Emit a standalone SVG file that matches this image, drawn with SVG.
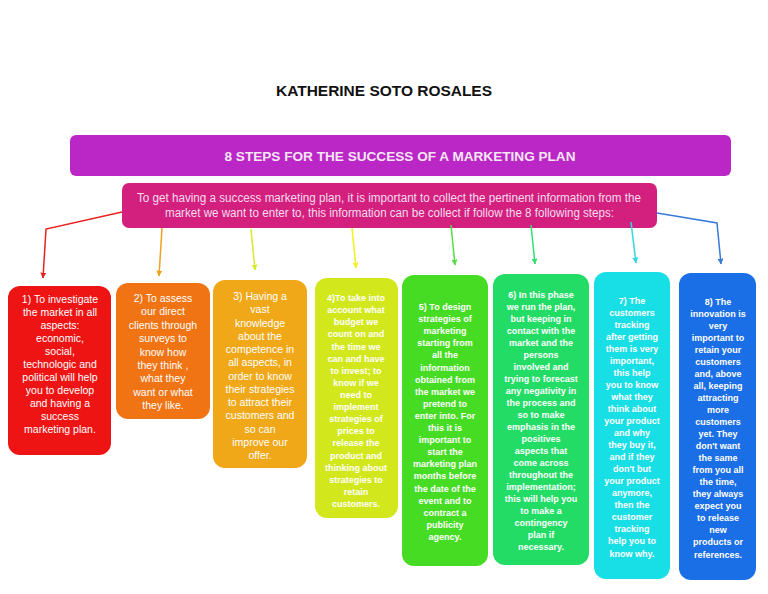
<svg xmlns="http://www.w3.org/2000/svg" width="768" height="594" viewBox="0 0 768 594">
<style>
.t1{font-family:"Liberation Sans",Arial,sans-serif;font-size:10.5px;fill:#fff;text-anchor:middle}
.t2{font-family:"Liberation Sans",Arial,sans-serif;font-size:9px;font-weight:bold;fill:#fff;text-anchor:middle}
.c{fill:none;stroke-width:1.5}
</style>
<defs>
<marker id="ar" viewBox="0 0 10 10" refX="9" refY="5" markerWidth="6" markerHeight="6" orient="auto" markerUnits="userSpaceOnUse"><path d="M0,0 L10,5 L0,10 z" fill="context-stroke"/></marker>
</defs>
<rect width="768" height="594" fill="#fff"/>
<g id="title"><text x="384" y="96" font-family="Liberation Sans,Arial,sans-serif" font-size="15" font-weight="bold" text-anchor="middle" fill="#111" textLength="216" lengthAdjust="spacingAndGlyphs">KATHERINE SOTO ROSALES</text></g>
<g id="header"><rect x="70" y="135" width="661" height="41" rx="6" fill="#bb27c6"/>
<text x="400" y="161" font-family="Liberation Sans,Arial,sans-serif" font-size="13.5" font-weight="bold" text-anchor="middle" fill="#f6e6f6" textLength="351" lengthAdjust="spacingAndGlyphs">8 STEPS FOR THE SUCCESS OF A MARKETING PLAN</text></g>
<g id="intro"><rect x="122" y="183" width="535" height="45" rx="7" fill="#d3207f"/>
<text font-family="Liberation Sans,Arial,sans-serif" font-size="12" text-anchor="middle" fill="#f8dcee"><tspan x="389" y="202" textLength="504" lengthAdjust="spacingAndGlyphs">To get having a success marketing plan, it is important to collect the pertinent information from the</tspan><tspan x="389.5" y="217" textLength="449" lengthAdjust="spacingAndGlyphs">market we want to enter to, this information can be collect if follow the 8 following steps:</tspan></text></g>
<g id="connectors">
<polyline class="c" stroke="#e82020" points="122,212 46,229 43,278" marker-end="url(#ar)"/>
<line class="c" stroke="#f0a020" x1="162" y1="228" x2="159" y2="276" marker-end="url(#ar)"/>
<line class="c" stroke="#d6e830" x1="251" y1="229" x2="255" y2="270" marker-end="url(#ar)"/>
<line class="c" stroke="#f2f020" x1="352" y1="228" x2="356" y2="268" marker-end="url(#ar)"/>
<line class="c" stroke="#50e040" x1="451" y1="225" x2="455" y2="265" marker-end="url(#ar)"/>
<line class="c" stroke="#30e070" x1="531" y1="225" x2="535" y2="264" marker-end="url(#ar)"/>
<line class="c" stroke="#30d8e0" x1="631" y1="222" x2="636" y2="263" marker-end="url(#ar)"/>
<polyline class="c" stroke="#3a7ad8" points="657,213 717,223 721,264" marker-end="url(#ar)"/>
</g>
<g id="step1"><rect x="8" y="286" width="103" height="169" rx="12" fill="#ee1414"/>
<text class="t1"><tspan x="60" y="303">1) To investigate</tspan><tspan x="60" y="316">the market in all</tspan><tspan x="60" y="329">aspects:</tspan><tspan x="60" y="342">economic,</tspan><tspan x="60" y="355">social,</tspan><tspan x="60" y="368">technologic and</tspan><tspan x="60" y="381">political will help</tspan><tspan x="60" y="394">you to develop</tspan><tspan x="60" y="407">and having a</tspan><tspan x="60" y="420">success</tspan><tspan x="60" y="433">marketing plan.</tspan></text></g>
<g id="step2"><rect x="116" y="283" width="94" height="136" rx="12" fill="#f07414"/>
<text class="t1"><tspan x="163" y="302">2) To assess</tspan><tspan x="163" y="315.4">our direct</tspan><tspan x="163" y="328.8">clients through</tspan><tspan x="163" y="342.2">surveys to</tspan><tspan x="163" y="355.6">know how</tspan><tspan x="163" y="369">they think ,</tspan><tspan x="163" y="382.4">what they</tspan><tspan x="163" y="395.8">want or what</tspan><tspan x="163" y="409.2">they like.</tspan></text></g>
<g id="step3"><rect x="213" y="280" width="94" height="188" rx="12" fill="#f0a818"/>
<text class="t1"><tspan x="260" y="300">3) Having a</tspan><tspan x="260" y="313.2">vast</tspan><tspan x="260" y="326.5">knowledge</tspan><tspan x="260" y="339.7">about the</tspan><tspan x="260" y="353">competence in</tspan><tspan x="260" y="366.2">all aspects, in</tspan><tspan x="260" y="379.5">order to know</tspan><tspan x="260" y="392.7">their strategies</tspan><tspan x="260" y="406">to attract their</tspan><tspan x="260" y="419.2">customers and</tspan><tspan x="260" y="432.5">so can</tspan><tspan x="260" y="445.7">improve our</tspan><tspan x="260" y="459">offer.</tspan></text></g>
<g id="step4"><rect x="315" y="278" width="83" height="240" rx="12" fill="#d2e81c"/>
<text class="t2"><tspan x="356" y="301">4)To take into</tspan><tspan x="356" y="313.1">account what</tspan><tspan x="356" y="325.2">budget we</tspan><tspan x="356" y="337.4">count on and</tspan><tspan x="356" y="349.5">the time we</tspan><tspan x="356" y="361.6">can and have</tspan><tspan x="356" y="373.7">to invest; to</tspan><tspan x="356" y="385.8">know if we</tspan><tspan x="356" y="398">need to</tspan><tspan x="356" y="410.1">implement</tspan><tspan x="356" y="422.2">strategies of</tspan><tspan x="356" y="434.3">prices to</tspan><tspan x="356" y="446.4">release the</tspan><tspan x="356" y="458.6">product and</tspan><tspan x="356" y="470.7">thinking about</tspan><tspan x="356" y="482.8">strategies to</tspan><tspan x="356" y="494.9">retain</tspan><tspan x="356" y="507">customers.</tspan></text></g>
<g id="step5"><rect x="402" y="275" width="86" height="291" rx="12" fill="#46dc24"/>
<text class="t2"><tspan x="445" y="310">5) To design</tspan><tspan x="445" y="322.1">strategies of</tspan><tspan x="445" y="334.2">marketing</tspan><tspan x="445" y="346.3">starting from</tspan><tspan x="445" y="358.4">all the</tspan><tspan x="445" y="370.5">information</tspan><tspan x="445" y="382.6">obtained from</tspan><tspan x="445" y="394.7">the market we</tspan><tspan x="445" y="406.8">pretend to</tspan><tspan x="445" y="418.9">enter into. For</tspan><tspan x="445" y="431">this it is</tspan><tspan x="445" y="443.1">important to</tspan><tspan x="445" y="455.2">start the</tspan><tspan x="445" y="467.3">marketing plan</tspan><tspan x="445" y="479.4">months before</tspan><tspan x="445" y="491.5">the date of the</tspan><tspan x="445" y="503.6">event and to</tspan><tspan x="445" y="515.7">contract a</tspan><tspan x="445" y="527.8">publicity</tspan><tspan x="445" y="540">agency.</tspan></text></g>
<g id="step6"><rect x="493" y="274" width="96" height="291" rx="12" fill="#22dc66"/>
<text class="t2"><tspan x="541" y="298">6) In this phase</tspan><tspan x="541" y="310">we run the plan,</tspan><tspan x="541" y="322">but keeping in</tspan><tspan x="541" y="334">contact with the</tspan><tspan x="541" y="346">market and the</tspan><tspan x="541" y="358">persons</tspan><tspan x="541" y="370">involved and</tspan><tspan x="541" y="382">trying to forecast</tspan><tspan x="541" y="394">any negativity in</tspan><tspan x="541" y="406">the process and</tspan><tspan x="541" y="418">so to make</tspan><tspan x="541" y="430">emphasis in the</tspan><tspan x="541" y="442">positives</tspan><tspan x="541" y="454">aspects that</tspan><tspan x="541" y="466">come across</tspan><tspan x="541" y="478">throughout the</tspan><tspan x="541" y="490">implementation;</tspan><tspan x="541" y="502">this will help you</tspan><tspan x="541" y="514">to make a</tspan><tspan x="541" y="526">contingency</tspan><tspan x="541" y="538">plan if</tspan><tspan x="541" y="550">necessary.</tspan></text></g>
<g id="step7"><rect x="594" y="272" width="76" height="307" rx="12" fill="#18dee6"/>
<text class="t2"><tspan x="632" y="304">7) The</tspan><tspan x="632" y="316">customers</tspan><tspan x="632" y="328">tracking</tspan><tspan x="632" y="340">after getting</tspan><tspan x="632" y="352">them is very</tspan><tspan x="632" y="364">important,</tspan><tspan x="632" y="376">this help</tspan><tspan x="632" y="388">you to know</tspan><tspan x="632" y="400">what they</tspan><tspan x="632" y="412">think about</tspan><tspan x="632" y="424">your product</tspan><tspan x="632" y="436">and why</tspan><tspan x="632" y="448">they buy it,</tspan><tspan x="632" y="460">and if they</tspan><tspan x="632" y="472">don't but</tspan><tspan x="632" y="484">your product</tspan><tspan x="632" y="496">anymore,</tspan><tspan x="632" y="508">then the</tspan><tspan x="632" y="520">customer</tspan><tspan x="632" y="532">tracking</tspan><tspan x="632" y="544">help you to</tspan><tspan x="632" y="557">know why.</tspan></text></g>
<g id="step8"><rect x="679" y="273" width="77" height="307" rx="12" fill="#1a6ee6"/>
<text class="t2"><tspan x="718" y="305">8) The</tspan><tspan x="718" y="317">innovation is</tspan><tspan x="718" y="329">very</tspan><tspan x="718" y="341">important to</tspan><tspan x="718" y="353">retain your</tspan><tspan x="718" y="365">customers</tspan><tspan x="718" y="377">and, above</tspan><tspan x="718" y="389">all, keeping</tspan><tspan x="718" y="401">attracting</tspan><tspan x="718" y="413">more</tspan><tspan x="718" y="425">customers</tspan><tspan x="718" y="437">yet. They</tspan><tspan x="718" y="449">don't want</tspan><tspan x="718" y="461">the same</tspan><tspan x="718" y="473">from you all</tspan><tspan x="718" y="485">the time,</tspan><tspan x="718" y="497">they always</tspan><tspan x="718" y="509">expect you</tspan><tspan x="718" y="521">to release</tspan><tspan x="718" y="533">new</tspan><tspan x="718" y="545">products or</tspan><tspan x="718" y="558">references.</tspan></text></g>
</svg>
